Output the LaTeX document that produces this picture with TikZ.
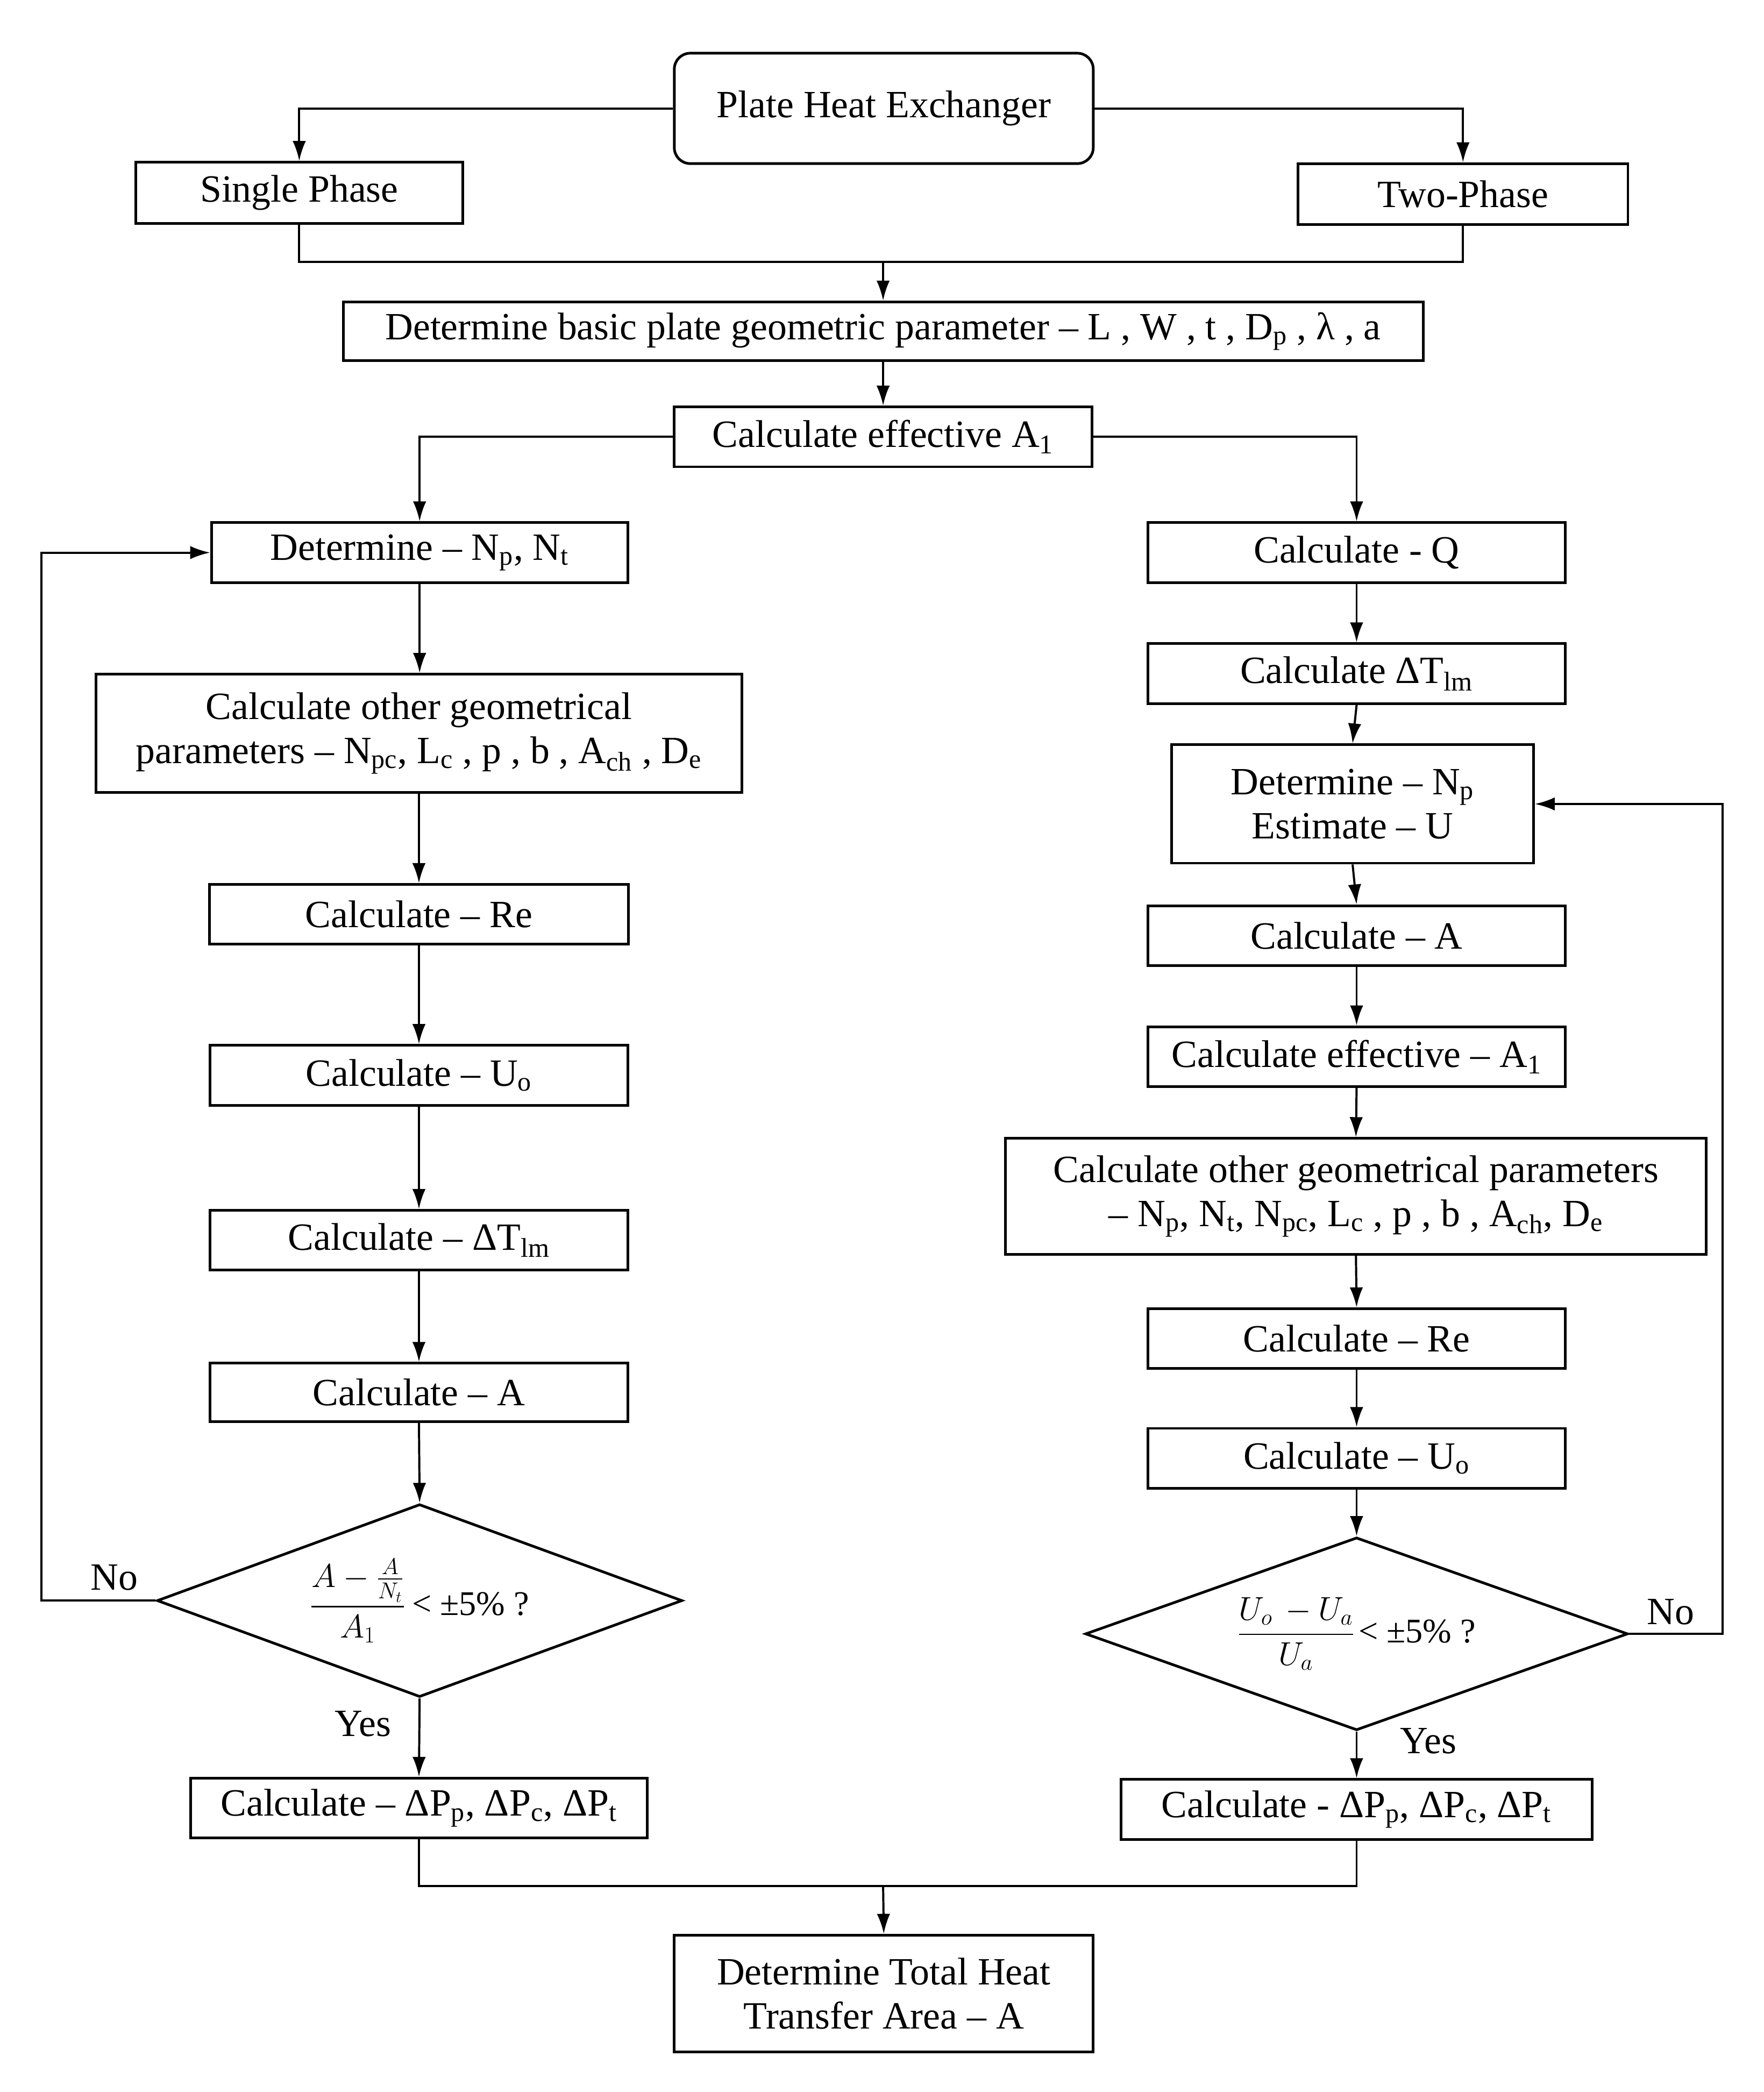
\documentclass[tikz,border=0pt]{standalone}
\usepackage{amsmath}
\usepackage{fontspec}
\setmainfont{Liberation Serif}
\usetikzlibrary{shapes.geometric,arrows.meta}
\newcommand\sbs[1]{\textsubscript{#1}}
\begin{document}
\begin{tikzpicture}[x=1pt,y=-1pt,
  box/.style={draw, line width=2pt, inner sep=0pt, align=center, font=\fontsize{29}{33}\selectfont},
  dia/.style={draw, diamond, shape aspect=2.7, line width=2pt, inner sep=0pt, align=center},
  lbl/.style={inner sep=0pt, font=\fontsize{29}{33}\selectfont},
  arr/.style={line width=1.6pt, -{Latex[length=15pt,width=10pt]}},
  ln/.style={line width=1.6pt}]
\fill[white] (0,0) rectangle (1326,1573);
\useasboundingbox (0,0) rectangle (1326,1573);
% top
\node[box, rounded corners=12pt, minimum width=315pt, minimum height=83pt] (phe) at (664.5,81.5) {Plate Heat Exchanger};
\node[box, minimum width=246pt, minimum height=46pt] (single) at (225,145) {Single Phase};
\node[box, minimum width=248pt, minimum height=46pt] (two) at (1100,146) {Two-Phase};
\node[box, minimum width=812pt, minimum height=44pt] (basic) at (664,249) {Determine basic plate geometric parameter – L , W , t , D\sbs{p} , λ , a};
\node[box, minimum width=314pt, minimum height=45pt] (eff) at (664,328.5) {Calculate effective A\sbs{1}};
% left column
\node[box, minimum width=313pt, minimum height=45pt] (np) at (315.5,415.5) {Determine – N\sbs{p}, N\sbs{t}};
\node[box, minimum width=486pt, minimum height=89pt] (geoL) at (315,551.5) {Calculate other geometrical\\parameters – N\sbs{pc}, L\sbs{c} , p , b , A\sbs{ch} , D\sbs{e}};
\node[box, minimum width=315pt, minimum height=45pt] (reL) at (315,687.5) {Calculate – Re};
\node[box, minimum width=314pt, minimum height=45pt] (uoL) at (315,808.5) {Calculate – U\sbs{o}};
\node[box, minimum width=314pt, minimum height=45pt] (tlmL) at (315,932.5) {Calculate – ΔT\sbs{lm}};
\node[box, minimum width=314pt, minimum height=44pt] (aL) at (315,1047) {Calculate – A};
\node[dia, minimum width=395pt, minimum height=145pt] (diaL) at (315.5,1203.5)
  {{\fontsize{25}{28}\selectfont$\dfrac{A-\frac{A}{N_t}}{A_1}$}\hspace{5pt}{\fontsize{26}{30}\selectfont< ±5\% ?}};
\node[box, minimum width=343pt, minimum height=45pt] (dpL) at (315,1359.5) {Calculate – ΔP\sbs{p}, ΔP\sbs{c}, ΔP\sbs{t}};
% right column
\node[box, minimum width=314pt, minimum height=45pt] (q) at (1020,415.5) {Calculate - Q};
\node[box, minimum width=314pt, minimum height=45pt] (tlmR) at (1020,506.5) {Calculate ΔT\sbs{lm}};
\node[box, minimum width=272pt, minimum height=89pt] (estR) at (1017,604.5) {Determine – N\sbs{p}\\Estimate – U};
\node[box, minimum width=314pt, minimum height=45pt] (aR) at (1020,703.5) {Calculate – A};
\node[box, minimum width=314pt, minimum height=45pt] (effR) at (1020,794.5) {Calculate effective – A\sbs{1}};
\node[box, minimum width=527pt, minimum height=87pt] (geoR) at (1019.5,899.5) {Calculate other geometrical parameters\\– N\sbs{p}, N\sbs{t}, N\sbs{pc}, L\sbs{c} , p , b , A\sbs{ch}, D\sbs{e}};
\node[box, minimum width=314pt, minimum height=45pt] (reR) at (1020,1006.5) {Calculate – Re};
\node[box, minimum width=314pt, minimum height=45pt] (uoR) at (1020,1096.5) {Calculate – U\sbs{o}};
\node[dia, minimum width=408pt, minimum height=145pt] (diaR) at (1020,1228.5)
  {{\fontsize{25}{28}\selectfont$\dfrac{U_o\,-U_a}{U_a}$}\hspace{3pt}{\fontsize{26}{30}\selectfont< ±5\% ?}};
\node[box, minimum width=354pt, minimum height=45pt] (dpR) at (1020,1360.5) {Calculate - ΔP\sbs{p}, ΔP\sbs{c}, ΔP\sbs{t}};
% bottom
\node[box, minimum width=315pt, minimum height=88pt] (final) at (664.5,1499) {Determine Total Heat\\Transfer Area – A};
% labels
\node[lbl] (noL) at (86,1186) {No};
\node[lbl] (yesL) at (273,1296) {Yes};
\node[lbl] (noR) at (1256,1212) {No};
\node[lbl] (yesR) at (1074,1309) {Yes};
% coordinates
\coordinate (j1) at (664,197);
\coordinate (j2) at (664,1418);
\coordinate (lL) at (31,1203.5);
\coordinate (lR) at (1295,1228.5);
% connectors top
\draw[arr] (phe.west) -| (single.north);
\draw[arr] (phe.east) -| (two.north);
\draw[ln] (single.south) |- (j1) -| (two.south);
\draw[arr] (j1) -- (basic.north);
\draw[arr] (basic.south) -- (eff.north);
\draw[arr] (eff.west) -| (np.north);
\draw[arr] (eff.east) -| (q.north);
% left chain
\draw[arr] (np.south) -- (np.south |- geoL.north);
\draw[arr] (geoL.south) -- (reL.north);
\draw[arr] (reL.south) -- (uoL.north);
\draw[arr] (uoL.south) -- (tlmL.north);
\draw[arr] (tlmL.south) -- (aL.north);
\draw[arr] (aL.south) -- (diaL.north);
\draw[arr] (diaL.south) -- (dpL.north);
\draw[arr] (diaL.west) -- (lL) |- (np.west);
% right chain
\draw[arr] (q.south) -- (tlmR.north);
\draw[arr] (tlmR.south) -- (estR.north);
\draw[arr] (estR.south) -- (aR.north);
\draw[arr] (aR.south) -- (effR.north);
\draw[arr] (effR.south) -- (geoR.north);
\draw[arr] (geoR.south) -- (reR.north);
\draw[arr] (reR.south) -- (uoR.north);
\draw[arr] (uoR.south) -- (diaR.north);
\draw[arr] (diaR.south) -- (dpR.north);
\draw[arr] (diaR.east) -- (lR) |- (estR.east);
% bottom join
\draw[ln] (dpL.south) |- (j2) -| (dpR.south);
\draw[arr] (j2) -- (final.north);
\end{tikzpicture}
\end{document}
